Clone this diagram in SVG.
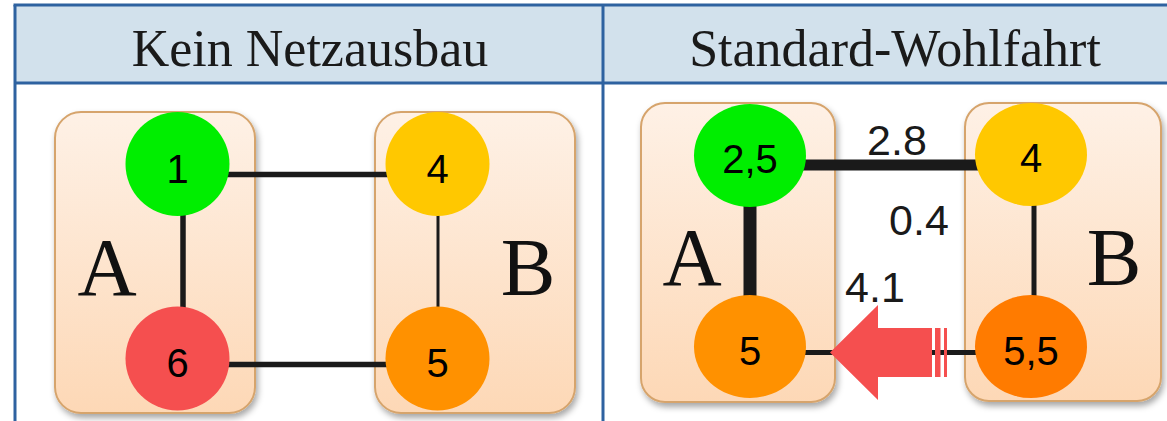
<svg xmlns="http://www.w3.org/2000/svg" width="1167" height="421" viewBox="0 0 1167 421">
  <defs>
    <linearGradient id="zoneFill" x1="0" y1="0" x2="0" y2="1">
      <stop offset="0" stop-color="#fef1e6"/>
      <stop offset="1" stop-color="#fdd8b6"/>
    </linearGradient>
    <filter id="zoneShadow" x="-10%" y="-10%" width="125%" height="125%">
      <feDropShadow dx="2" dy="4" stdDeviation="3" flood-color="#000" flood-opacity="0.35"/>
    </filter>
  </defs>
  <style>
    .head { fill: #d2e1ec; }
    .rule { stroke: #2e62a0; stroke-width: 3; fill: none; }
    .title { font-family: "Liberation Serif", "DejaVu Serif", serif; font-size: 52px; fill: #1a1a1a; text-anchor: middle; }
    .zone { fill: url(#zoneFill); stroke: #d6a46c; stroke-width: 2; filter: url(#zoneShadow); }
    .zlabel { font-family: "Liberation Serif", "DejaVu Serif", serif; font-size: 82px; fill: #111; text-anchor: middle; }
    .num { font-family: "Liberation Sans", Arial, sans-serif; font-size: 40px; fill: #000; text-anchor: middle; }
    .flow { font-family: "Liberation Sans", Arial, sans-serif; font-size: 43px; fill: #1a1a1a; text-anchor: middle; }
    .edge { stroke: #1a1a1a; stroke-linecap: butt; fill: none; }
    .arrow { fill: #f54f4f; }
  </style>

  <!-- table frame and header row -->
  <g id="table">
    <rect class="head" x="15" y="5" width="1160" height="78"/>
    <line class="rule" x1="13.5" y1="5" x2="1167" y2="5"/>
    <line class="rule" x1="15" y1="5" x2="15" y2="421"/>
    <line class="rule" x1="603" y1="5" x2="603" y2="421"/>
    <line class="rule" x1="15" y1="83" x2="1167" y2="83"/>
    <text class="title" x="310" y="66">Kein Netzausbau</text>
    <text class="title" x="895" y="66">Standard-Wohlfahrt</text>
  </g>

  <!-- zones -->
  <g id="zone-A-left">
    <rect class="zone" x="55" y="112" width="200" height="301" rx="26"/>
    <text class="zlabel" x="107" y="295">A</text>
  </g>
  <g id="zone-B-left">
    <rect class="zone" x="375" y="112" width="200" height="301" rx="26"/>
    <text class="zlabel" x="528" y="295">B</text>
  </g>
  <g id="zone-A-right">
    <rect class="zone" x="641" y="103" width="194" height="299" rx="24"/>
    <text class="zlabel" x="692" y="285">A</text>
  </g>
  <g id="zone-B-right">
    <rect class="zone" x="965" y="103" width="196" height="298" rx="24"/>
    <text class="zlabel" x="1114" y="285">B</text>
  </g>

  <!-- connectors -->
  <g id="connectors">
    <line class="edge" x1="183" y1="200" x2="183" y2="320" stroke-width="5.5"/>
    <line class="edge" x1="225" y1="174.5" x2="395" y2="174.5" stroke-width="5.5"/>
    <line class="edge" x1="438" y1="200" x2="438" y2="320" stroke-width="3"/>
    <line class="edge" x1="225" y1="364.5" x2="395" y2="364.5" stroke-width="5.5"/>

    <line class="edge" x1="750" y1="190" x2="750" y2="310" stroke-width="13"/>
    <line class="edge" x1="800" y1="165" x2="985" y2="165" stroke-width="11"/>
    <line class="edge" x1="1034" y1="190" x2="1034" y2="310" stroke-width="5"/>
    <line class="edge" x1="800" y1="352.5" x2="985" y2="352.5" stroke-width="5"/>

    <text class="flow" x="897" y="155">2.8</text>
    <text class="flow" x="919" y="235">0.4</text>
    <text class="flow" x="875" y="302">4.1</text>

    <!-- striped flow arrow from B to A -->
    <polygon class="arrow" points="830,352.5 878,305 878,328 932,328 932,377 878,377 878,400"/>
    <rect class="arrow" x="935" y="328" width="5.5" height="49"/>
    <rect class="arrow" x="944" y="328" width="3" height="49"/>
  </g>

  <!-- nodes: left panel -->
  <g id="node-A1-left">
    <circle cx="177.5" cy="164" r="52" fill="#00ee00"/>
    <text class="num" x="177.5" y="183">1</text>
  </g>
  <g id="node-A2-left">
    <circle cx="177.5" cy="358.5" r="52" fill="#f54f4f"/>
    <text class="num" x="177.5" y="377">6</text>
  </g>
  <g id="node-B1-left">
    <circle cx="437.5" cy="164" r="52" fill="#ffc800"/>
    <text class="num" x="437.5" y="183">4</text>
  </g>
  <g id="node-B2-left">
    <circle cx="437.5" cy="358.5" r="52" fill="#ff9100"/>
    <text class="num" x="437.5" y="377">5</text>
  </g>

  <!-- nodes: right panel -->
  <g id="node-A1-right">
    <ellipse cx="750" cy="155.5" rx="56" ry="51.5" fill="#00ee00"/>
    <text class="num" x="750" y="173">2,5</text>
  </g>
  <g id="node-A2-right">
    <ellipse cx="750" cy="346.5" rx="56" ry="51.5" fill="#ff9100"/>
    <text class="num" x="750" y="365">5</text>
  </g>
  <g id="node-B1-right">
    <ellipse cx="1031" cy="154.5" rx="56" ry="51.5" fill="#ffc800"/>
    <text class="num" x="1031" y="172">4</text>
  </g>
  <g id="node-B2-right">
    <ellipse cx="1031" cy="346.5" rx="56" ry="51.5" fill="#ff7b00"/>
    <text class="num" x="1031" y="365">5,5</text>
  </g>
</svg>
